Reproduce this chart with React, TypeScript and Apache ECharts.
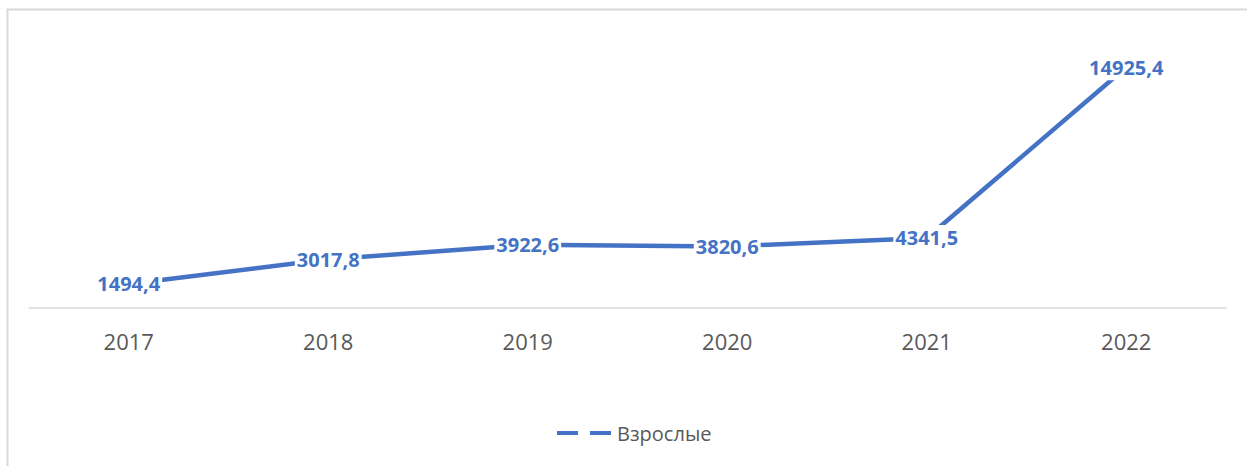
import React, { useEffect, useRef } from "react";
import * as echarts from "echarts";

const categories = ["2017", "2018", "2019", "2020", "2021", "2022"];
const seriesName = "Взрослые";
const values = [1494.4, 3017.8, 3922.6, 3820.6, 4341.5, 14925.4];
const yMin = 0;
const yMax = 16000;

const fmt = (v: number) => v.toFixed(1).replace(".", ",");

export default function App() {
  const ref = useRef<HTMLDivElement>(null);
  useEffect(() => {
    if (!ref.current) return;
    document.documentElement.style.overflow = "hidden";
    document.body.style.overflow = "hidden";
    document.body.style.margin = "0";
    const chart = echarts.init(ref.current, undefined, { renderer: "svg" });
    chart.setOption({
      animation: false,
      backgroundColor: "#ffffff",
      graphic: [
        {
          type: "line",
          shape: { x1: 7.5, y1: 9.5, x2: 7.5, y2: 466 },
          style: { stroke: "#d9d9d9", lineWidth: 2 },
          silent: true,
        },
        {
          type: "line",
          shape: { x1: 6.5, y1: 9.5, x2: 1247, y2: 9.5 },
          style: { stroke: "#d9d9d9", lineWidth: 2 },
          silent: true,
        },
      ],
      grid: { left: 29, right: 21, top: 50, bottom: 158, containLabel: false },
      xAxis: {
        type: "category",
        data: categories,
        boundaryGap: true,
        axisLine: { show: true, lineStyle: { color: "#d9d9d9", width: 1.5 } },
        axisTick: { show: false },
        axisLabel: {
          color: "#595959",
          fontFamily: "Open Sans",
          fontSize: 22,
          margin: 22,
        },
        splitLine: { show: false },
      },
      yAxis: {
        type: "value",
        min: yMin,
        max: yMax,
        show: false,
        splitLine: { show: false },
      },
      legend: {
        show: true,
        left: 557,
        top: 423,
        padding: 0,
        itemWidth: 54,
        itemHeight: 4,
        itemGap: 10,
        icon: "path://M0,0H21V4H0Z M33,0H54V4H33Z",
        textStyle: {
          color: "#595959",
          fontFamily: "Open Sans",
          fontSize: 20,
          padding: [0, 0, 0, 1],
        },
        data: [{ name: seriesName, itemStyle: { color: "#4472C4", opacity: 1 } }],
      },
      series: [
        {
          name: seriesName,
          type: "line",
          data: values,
          symbol: "circle",
          symbolSize: 0.5,
          showSymbol: true,
          showAllSymbol: true,
          lineStyle: { color: "#4472C4", width: 4.5, cap: "butt" },
          itemStyle: { color: "#4472C4" },
          label: {
            show: true,
            position: "inside",
            formatter: (p: any) => fmt(p.value),
            color: "#4472C4",
            fontFamily: "Open Sans",
            fontWeight: "bold",
            fontSize: 20,
            backgroundColor: "#ffffff",
            padding: [3, 2],
          },
        },
      ],
    });
    return () => chart.dispose();
  }, []);
  return (
    <div
      ref={ref}
      style={{ position: "fixed", left: 0, top: 0, width: 1247, height: 466 }}
    />
  );
}
